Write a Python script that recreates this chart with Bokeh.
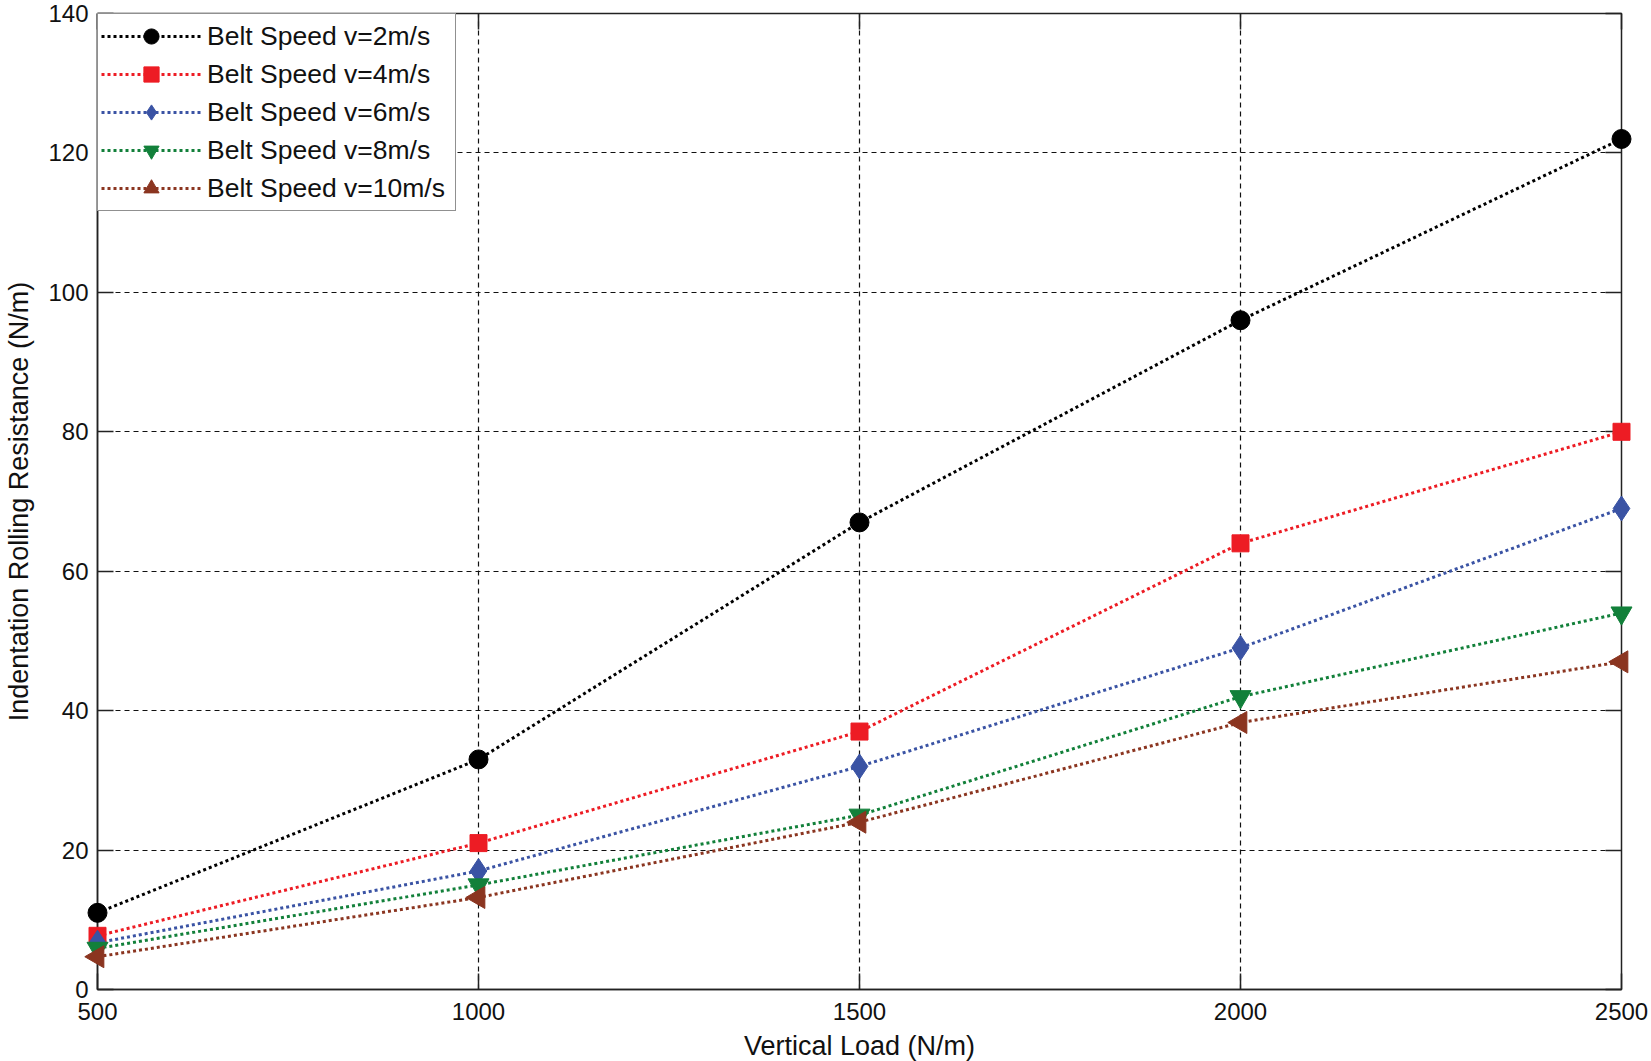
import math
from bokeh.plotting import figure
from bokeh.models import LinearAxis, FixedTicker, Range1d
from bokeh.embed import file_html
from bokeh.resources import INLINE

# ---- data ----
vertical_load = [500, 1000, 1500, 2000, 2500]
speed_2 = [11, 33, 67, 96, 122]
speed_4 = [7.7, 21, 37, 64, 80]
speed_6 = [6.7, 17, 32, 49, 69]
speed_8 = [5.9, 15, 25, 42, 54]
speed_10 = [4.7, 13.2, 24, 38.3, 47]
x_ticks = [500, 1000, 1500, 2000, 2500]
y_ticks = [0, 20, 40, 60, 80, 100, 120, 140]
labels = ["Belt Speed v=2m/s", "Belt Speed v=4m/s", "Belt Speed v=6m/s",
          "Belt Speed v=8m/s", "Belt Speed v=10m/s"]

FONT = "Liberation Sans"

p = figure(frame_width=1524, frame_height=976,
           min_border_left=97, min_border_right=30, min_border_top=13, min_border_bottom=72,
           x_range=Range1d(500, 2500), y_range=Range1d(0, 140),
           output_backend="svg", toolbar_location=None,
           background_fill_color="white", border_fill_color="white")

p.outline_line_color = "#222222"
p.outline_line_width = 1.5

for ax in (p.xaxis[0], p.yaxis[0]):
    ax.major_tick_in = 16
    ax.major_tick_out = 0
    ax.minor_tick_line_color = None
    ax.axis_line_color = "#222222"
    ax.axis_line_width = 1.5
    ax.major_tick_line_color = "#222222"
    ax.major_tick_line_width = 1.5
    ax.major_label_text_font = FONT
    ax.major_label_text_font_size = "24px"
    ax.major_label_text_color = "#111111"
    ax.axis_label_text_font = FONT
    ax.axis_label_text_font_size = "27px"
    ax.axis_label_text_font_style = "normal"
    ax.axis_label_text_color = "#111111"

p.xaxis[0].ticker = FixedTicker(ticks=x_ticks)
p.yaxis[0].ticker = FixedTicker(ticks=y_ticks)
p.xaxis[0].axis_label = "Vertical Load (N/m)"
p.yaxis[0].axis_label = "Indentation Rolling Resistance (N/m)"
p.xaxis[0].major_label_standoff = 13
p.yaxis[0].major_label_standoff = 9
p.xaxis[0].axis_label_standoff = 8
p.yaxis[0].axis_label_standoff = 11

# mirror ticks on top and right
top_ax = LinearAxis(ticker=FixedTicker(ticks=x_ticks), major_tick_in=16, major_tick_out=0,
                    minor_tick_line_color=None, axis_line_color=None,
                    major_tick_line_color="#222222", major_tick_line_width=1.5,
                    major_label_text_font_size="0px", major_label_standoff=0)
right_ax = LinearAxis(ticker=FixedTicker(ticks=y_ticks), major_tick_in=16, major_tick_out=0,
                      minor_tick_line_color=None, axis_line_color=None,
                      major_tick_line_color="#222222", major_tick_line_width=1.5,
                      major_label_text_font_size="0px", major_label_standoff=0)
p.add_layout(top_ax, "above")
p.add_layout(right_ax, "right")

for g in (p.xgrid[0], p.ygrid[0]):
    g.grid_line_color = "#111111"
    g.grid_line_dash = "5 4"
    g.grid_line_width = 1.2
p.xgrid[0].ticker = FixedTicker(ticks=x_ticks)
p.ygrid[0].ticker = FixedTicker(ticks=y_ticks)

series = [
    (speed_2, "#000000", "circle", 19, 0.0),
    (speed_4, "#ED1C24", "square", 17, 0.0),
    (speed_6, "#3A53A4", "diamond", 25, 0.0),
    (speed_8, "#12803A", "inverted_triangle", 21, 0.0),
    (speed_10, "#8B3520", "triangle", 22, math.pi / 2),
]

for (vals, color, marker, size, angle), lab in zip(series, labels):
    p.line(vertical_load, vals, line_color=color, line_width=3, line_dash="3 3",
           legend_label=lab)
    p.scatter(vertical_load, vals, marker=marker, size=size, angle=angle,
              fill_color=color, line_color=color, legend_label=lab, level="overlay")

lg = p.legend[0]
lg.location = "top_left"
lg.margin = 0
lg.padding = 3
lg.spacing = 0
lg.glyph_width = 100
lg.glyph_height = 38
lg.label_standoff = 6
lg.label_width = 245
lg.label_text_font = FONT
lg.label_text_font_size = "26.5px"
lg.label_text_color = "#111111"
lg.border_line_color = "#222222"
lg.border_line_width = 1.5
lg.background_fill_color = "white"
lg.background_fill_alpha = 1.0

open("out.html", "w").write(file_html(p, INLINE))
